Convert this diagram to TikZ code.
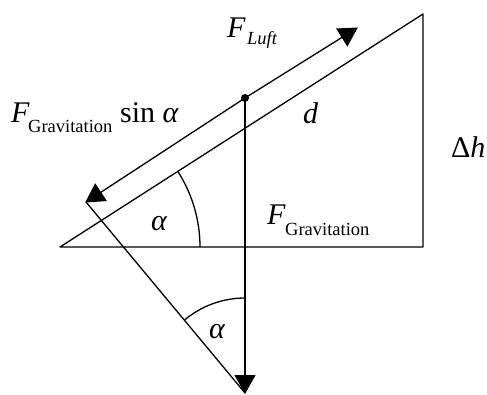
\documentclass[tikz,border=0pt]{standalone}
\usepackage{fontspec}
\setmainfont{Liberation Serif}
\usetikzlibrary{arrows.meta}
\tikzset{
  ln/.style={line width=1.3pt, line join=round},
  vec/.style={ln, -{Triangle[length=19pt,width=21pt]}, shorten >=-1pt},
  big/.style={inner sep=0pt, anchor=base west, font=\fontsize{30}{30}\selectfont},
  small/.style={inner sep=0pt, anchor=base west, font=\fontsize{18.5}{18.5}\selectfont},
}
\begin{document}
\begin{tikzpicture}[x=1pt,y=1pt]
\useasboundingbox (0,0) rectangle (487,394);
\coordinate (A) at (60,147);
\coordinate (B) at (423,147);
\coordinate (C) at (423,380);
\coordinate (P) at (245,296);
\coordinate (U) at (357,366);
\coordinate (L) at (86,192);
\coordinate (G) at (245,1);
% incline triangle
\draw[ln] (A) -- (B) -- (C) -- cycle;
% forces
\draw[vec] (P) -- (U);
\draw[vec] (P) -- (L);
\draw[vec] (P) -- (G);
\draw[ln] (L) -- (G);
\fill (P) circle[radius=4];
% angle arcs
\draw[ln] (200,147) arc[start angle=0,end angle=32.7,radius=140];
\draw[ln] (245,96) arc[start angle=90,end angle=129.8,radius=94];
% labels
\node[big] (fl) at (227,356) {\itshape F};
\node[small] (fls) at (247,349) {\itshape Luft};
\node[big] (fg) at (11,271) {\itshape F};
\node[small] (fgs) at (28,261) {Gravitation};
\node[big] (sin) at (120,271) {sin \itshape α};
\node[big] (d) at (303,270) {\itshape d};
\node[big] (dh) at (451,236) {Δ\itshape h};
\node[big] (a1) at (151,164) {\itshape α};
\node[big] (fg2) at (267,169) {\itshape F};
\node[small] (fg2s) at (285,159) {Gravitation};
\node[big] (a2) at (209,56) {\itshape α};
\end{tikzpicture}
\end{document}
